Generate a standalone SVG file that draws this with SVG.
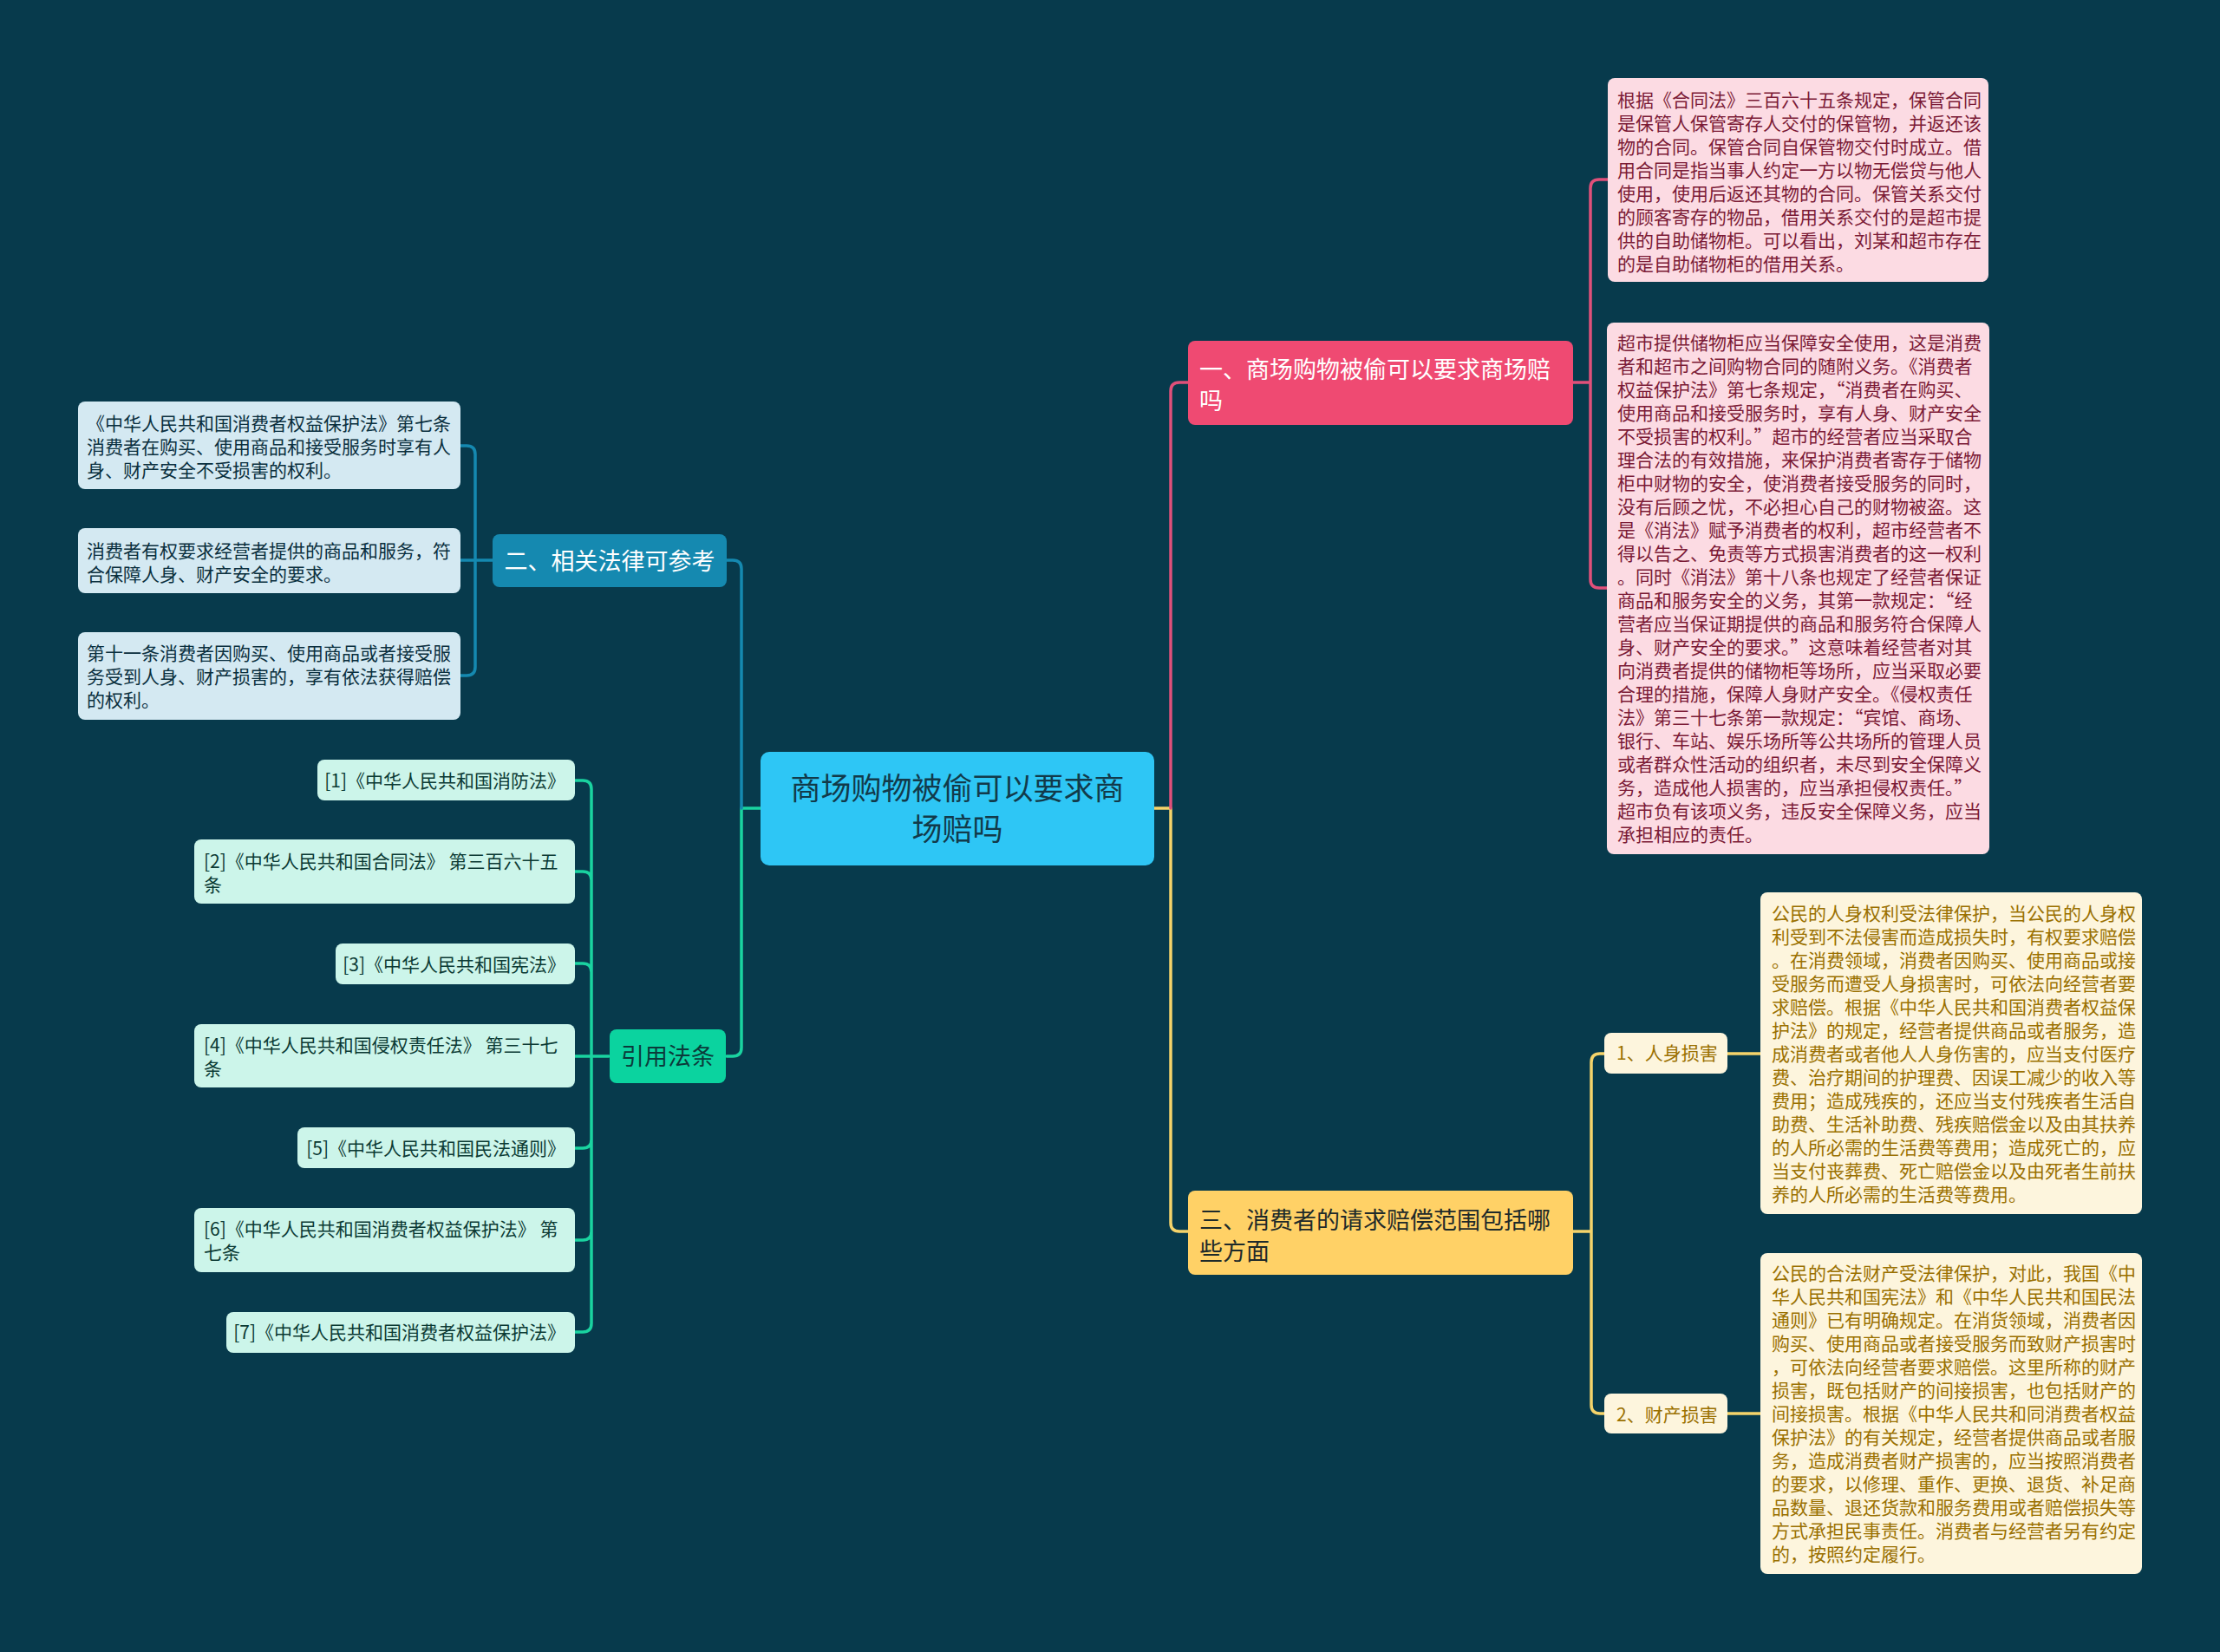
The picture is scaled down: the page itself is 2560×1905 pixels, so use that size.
<svg xmlns="http://www.w3.org/2000/svg" width="2560" height="1905" viewBox="0 0 2560 1905">
<style>
text{font-family:"Noto Sans CJK SC","Noto Sans",sans-serif;}
.lk{fill:none;stroke-width:3.5;stroke-linecap:round;stroke-linejoin:round;}
.t21{font-size:21px;}
.t27{font-size:27px;}
.pinkleaf{fill:#fcdbe3;}
.pinktxt{fill:#7b1a36;}
.yelleaf{fill:#fdf5dd;}
.yeltxt{fill:#9a7000;}
.blueleaf{fill:#d4e9f2;}
.bluetxt{fill:#0a2f3e;}
.refleaf{fill:#ccf5ea;}
.reftxt{fill:#0b3a34;}
</style>
<rect width="2560" height="1905" fill="#073a4c"/>
<g id="connectors">
<path class="lk" stroke="#1ad3a0" d="M877,932 H855 V1208 Q855,1218 845,1218 H838"/>
<path class="lk" stroke="#1589b0" d="M855,932 V656 Q855,646 845,646 H838"/>
<path class="lk" stroke="#f5d36a" d="M1331,932 H1350 V1410 Q1350,1420 1360,1420 H1370"/>
<path class="lk" stroke="#e0507a" d="M1350,932 V451 Q1350,441 1360,441 H1370"/>
<path class="lk" stroke="#e0507a" d="M1814,441 H1834 M1834,441 V217 Q1834,207 1844,207 H1854 M1834,441 V668 Q1834,678 1844,678 H1853"/>
<path class="lk" stroke="#f5d36a" d="M1814,1420 H1835 M1835,1420 V1225 Q1835,1215 1845,1215 H1850 M1835,1420 V1620 Q1835,1630 1845,1630 H1850"/>
<path class="lk" stroke="#f5d36a" d="M1992,1215 H2030 M1992,1630 H2030"/>
<path class="lk" stroke="#1589b0" d="M568,646 H548 M548,646 V524 Q548,514 538,514 H531 M548,646 H531 M548,646 V769 Q548,779 538,779 H531"/>
<path class="lk" stroke="#1ad3a0" d="M702,1218 H682 M682,1218 V910 Q682,900 672,900 H663 M682,1218 V1015 Q682,1005 672,1005 H663 M682,1218 V1121 Q682,1111 672,1111 H663 M682,1218 H663 M682,1218 V1314 Q682,1324 672,1324 H663 M682,1218 V1420 Q682,1430 672,1430 H663 M682,1218 V1526 Q682,1536 672,1536 H663"/>
</g>
<g id="center">
<rect x="877" y="867" width="454" height="131" rx="10" fill="#2ec6f5"/>
<text x="1104" y="922" font-size="35" fill="#123a4a" text-anchor="middle"><tspan x="1104">商场购物被偷可以要求商</tspan><tspan x="1104" dy="47">场赔吗</tspan></text>
</g>
<g id="node1">
<rect x="1370" y="393" width="444" height="97" rx="8" fill="#ef4a72"/>
<text class="t27" x="1383" y="436" fill="#ffffff"><tspan x="1383">一、商场购物被偷可以要求商场赔</tspan><tspan x="1383" dy="36">吗</tspan></text>
</g>
<g id="node1-leaf1">
<rect class="pinkleaf" x="1854" y="90" width="439" height="235" rx="8"/>
<text class="t21 pinktxt" x="1865" y="123"><tspan x="1865">根据《合同法》三百六十五条规定，保管合同</tspan><tspan x="1865" dy="27">是保管人保管寄存人交付的保管物，并返还该</tspan><tspan x="1865" dy="27">物的合同。保管合同自保管物交付时成立。借</tspan><tspan x="1865" dy="27">用合同是指当事人约定一方以物无偿贷与他人</tspan><tspan x="1865" dy="27">使用，使用后返还其物的合同。保管关系交付</tspan><tspan x="1865" dy="27">的顾客寄存的物品，借用关系交付的是超市提</tspan><tspan x="1865" dy="27">供的自助储物柜。可以看出，刘某和超市存在</tspan><tspan x="1865" dy="27">的是自助储物柜的借用关系。</tspan></text>
</g>
<g id="node1-leaf2">
<rect class="pinkleaf" x="1853" y="372" width="441" height="613" rx="8"/>
<text class="t21 pinktxt" x="1865" y="403"><tspan x="1865">超市提供储物柜应当保障安全使用，这是消费</tspan><tspan x="1865" dy="27">者和超市之间购物合同的随附义务。《消费者</tspan><tspan x="1865" dy="27">权益保护法》第七条规定，“消费者在购买、</tspan><tspan x="1865" dy="27">使用商品和接受服务时，享有人身、财产安全</tspan><tspan x="1865" dy="27">不受损害的权利。”超市的经营者应当采取合</tspan><tspan x="1865" dy="27">理合法的有效措施，来保护消费者寄存于储物</tspan><tspan x="1865" dy="27">柜中财物的安全，使消费者接受服务的同时，</tspan><tspan x="1865" dy="27">没有后顾之忧，不必担心自己的财物被盗。这</tspan><tspan x="1865" dy="27">是《消法》赋予消费者的权利，超市经营者不</tspan><tspan x="1865" dy="27">得以告之、免责等方式损害消费者的这一权利</tspan><tspan x="1865" dy="27">。同时《消法》第十八条也规定了经营者保证</tspan><tspan x="1865" dy="27">商品和服务安全的义务，其第一款规定：“经</tspan><tspan x="1865" dy="27">营者应当保证期提供的商品和服务符合保障人</tspan><tspan x="1865" dy="27">身、财产安全的要求。”这意味着经营者对其</tspan><tspan x="1865" dy="27">向消费者提供的储物柜等场所，应当采取必要</tspan><tspan x="1865" dy="27">合理的措施，保障人身财产安全。《侵权责任</tspan><tspan x="1865" dy="27">法》第三十七条第一款规定：“宾馆、商场、</tspan><tspan x="1865" dy="27">银行、车站、娱乐场所等公共场所的管理人员</tspan><tspan x="1865" dy="27">或者群众性活动的组织者，未尽到安全保障义</tspan><tspan x="1865" dy="27">务，造成他人损害的，应当承担侵权责任。”</tspan><tspan x="1865" dy="27">超市负有该项义务，违反安全保障义务，应当</tspan><tspan x="1865" dy="27">承担相应的责任。</tspan></text>
</g>
<g id="node3">
<rect x="1370" y="1373" width="444" height="97" rx="8" fill="#ffd166"/>
<text class="t27" x="1383" y="1417" fill="#1e2a2a"><tspan x="1383">三、消费者的请求赔偿范围包括哪</tspan><tspan x="1383" dy="36">些方面</tspan></text>
</g>
<g id="node3-1">
<rect class="yelleaf" x="1850" y="1191" width="142" height="47" rx="8"/>
<text class="t21 yeltxt" x="1864" y="1222">1、人身损害</text>
</g>
<g id="node3-1-leaf">
<rect class="yelleaf" x="2030" y="1029" width="440" height="371" rx="8"/>
<text class="t21 yeltxt" x="2043" y="1061"><tspan x="2043">公民的人身权利受法律保护，当公民的人身权</tspan><tspan x="2043" dy="27">利受到不法侵害而造成损失时，有权要求赔偿</tspan><tspan x="2043" dy="27">。在消费领域，消费者因购买、使用商品或接</tspan><tspan x="2043" dy="27">受服务而遭受人身损害时，可依法向经营者要</tspan><tspan x="2043" dy="27">求赔偿。根据《中华人民共和国消费者权益保</tspan><tspan x="2043" dy="27">护法》的规定，经营者提供商品或者服务，造</tspan><tspan x="2043" dy="27">成消费者或者他人人身伤害的，应当支付医疗</tspan><tspan x="2043" dy="27">费、治疗期间的护理费、因误工减少的收入等</tspan><tspan x="2043" dy="27">费用；造成残疾的，还应当支付残疾者生活自</tspan><tspan x="2043" dy="27">助费、生活补助费、残疾赔偿金以及由其扶养</tspan><tspan x="2043" dy="27">的人所必需的生活费等费用；造成死亡的，应</tspan><tspan x="2043" dy="27">当支付丧葬费、死亡赔偿金以及由死者生前扶</tspan><tspan x="2043" dy="27">养的人所必需的生活费等费用。</tspan></text>
</g>
<g id="node3-2">
<rect class="yelleaf" x="1850" y="1607" width="142" height="46" rx="8"/>
<text class="t21 yeltxt" x="1864" y="1639">2、财产损害</text>
</g>
<g id="node3-2-leaf">
<rect class="yelleaf" x="2030" y="1445" width="440" height="370" rx="8"/>
<text class="t21 yeltxt" x="2043" y="1476"><tspan x="2043">公民的合法财产受法律保护，对此，我国《中</tspan><tspan x="2043" dy="27">华人民共和国宪法》和《中华人民共和国民法</tspan><tspan x="2043" dy="27">通则》已有明确规定。在消货领域，消费者因</tspan><tspan x="2043" dy="27">购买、使用商品或者接受服务而致财产损害时</tspan><tspan x="2043" dy="27">，可依法向经营者要求赔偿。这里所称的财产</tspan><tspan x="2043" dy="27">损害，既包括财产的间接损害，也包括财产的</tspan><tspan x="2043" dy="27">间接损害。根据《中华人民共和同消费者权益</tspan><tspan x="2043" dy="27">保护法》的有关规定，经营者提供商品或者服</tspan><tspan x="2043" dy="27">务，造成消费者财产损害的，应当按照消费者</tspan><tspan x="2043" dy="27">的要求，以修理、重作、更换、退货、补足商</tspan><tspan x="2043" dy="27">品数量、退还货款和服务费用或者赔偿损失等</tspan><tspan x="2043" dy="27">方式承担民事责任。消费者与经营者另有约定</tspan><tspan x="2043" dy="27">的，按照约定履行。</tspan></text>
</g>
<g id="node2">
<rect x="568" y="616" width="270" height="61" rx="8" fill="#1589b0"/>
<text class="t27" x="703" y="657" fill="#ffffff" text-anchor="middle">二、相关法律可参考</text>
</g>
<g id="node2-leaf1">
<rect class="blueleaf" x="90" y="463" width="441" height="101" rx="8"/>
<text class="t21 bluetxt" x="100" y="496"><tspan x="100">《中华人民共和国消费者权益保护法》第七条</tspan><tspan x="100" dy="27">消费者在购买、使用商品和接受服务时享有人</tspan><tspan x="100" dy="27">身、财产安全不受损害的权利。</tspan></text>
</g>
<g id="node2-leaf2">
<rect class="blueleaf" x="90" y="609" width="441" height="75" rx="8"/>
<text class="t21 bluetxt" x="100" y="643"><tspan x="100">消费者有权要求经营者提供的商品和服务，符</tspan><tspan x="100" dy="27">合保障人身、财产安全的要求。</tspan></text>
</g>
<g id="node2-leaf3">
<rect class="blueleaf" x="90" y="729" width="441" height="101" rx="8"/>
<text class="t21 bluetxt" x="100" y="761"><tspan x="100">第十一条消费者因购买、使用商品或者接受服</tspan><tspan x="100" dy="27">务受到人身、财产损害的，享有依法获得赔偿</tspan><tspan x="100" dy="27">的权利。</tspan></text>
</g>
<g id="node4">
<rect x="703" y="1187" width="134" height="62" rx="8" fill="#0bd39f"/>
<text class="t27" x="770" y="1228" fill="#0b3a3a" text-anchor="middle">引用法条</text>
</g>
<g id="ref1">
<rect class="refleaf" x="366" y="876" width="297" height="47" rx="8"/>
<text class="t21 reftxt" x="652" y="908" text-anchor="end">[1]《中华人民共和国消防法》</text>
</g>
<g id="ref2">
<rect class="refleaf" x="224" y="968" width="439" height="74" rx="8"/>
<text class="t21 reftxt" x="235" y="1001"><tspan x="235">[2]《中华人民共和国合同法》 第三百六十五</tspan><tspan x="235" dy="27">条</tspan></text>
</g>
<g id="ref3">
<rect class="refleaf" x="387" y="1088" width="276" height="47" rx="8"/>
<text class="t21 reftxt" x="652" y="1120" text-anchor="end">[3]《中华人民共和国宪法》</text>
</g>
<g id="ref4">
<rect class="refleaf" x="224" y="1181" width="439" height="73" rx="8"/>
<text class="t21 reftxt" x="235" y="1213"><tspan x="235">[4]《中华人民共和国侵权责任法》 第三十七</tspan><tspan x="235" dy="27">条</tspan></text>
</g>
<g id="ref5">
<rect class="refleaf" x="343" y="1300" width="320" height="47" rx="8"/>
<text class="t21 reftxt" x="652" y="1332" text-anchor="end">[5]《中华人民共和国民法通则》</text>
</g>
<g id="ref6">
<rect class="refleaf" x="224" y="1393" width="439" height="74" rx="8"/>
<text class="t21 reftxt" x="235" y="1425"><tspan x="235">[6]《中华人民共和国消费者权益保护法》 第</tspan><tspan x="235" dy="27">七条</tspan></text>
</g>
<g id="ref7">
<rect class="refleaf" x="261" y="1513" width="402" height="47" rx="8"/>
<text class="t21 reftxt" x="652" y="1544" text-anchor="end">[7]《中华人民共和国消费者权益保护法》</text>
</g>
</svg>
